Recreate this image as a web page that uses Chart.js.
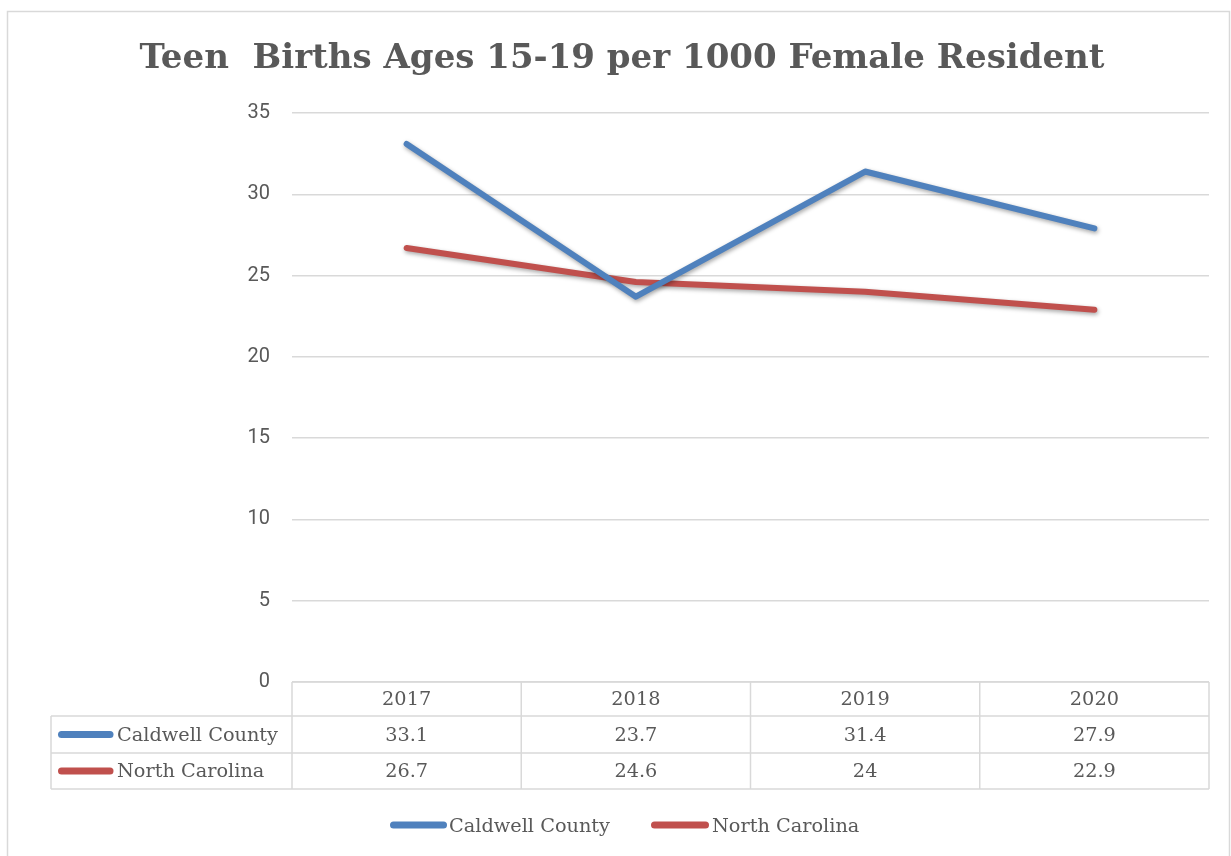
<!DOCTYPE html>
<html>
<head>
<meta charset="utf-8">
<script src="https://cdn.jsdelivr.net/npm/chart.js@4.4.1/dist/chart.umd.min.js"></script>
<style>
html,body{margin:0;padding:0;background:#fff;}
#wrap{position:relative;width:1231px;height:856px;}
</style>
</head>
<body>
<div id="wrap"><canvas id="c" width="1231" height="856"></canvas></div>
<script>
const categories = ['2017', '2018', '2019', '2020'];
const caldwell = [33.1, 23.7, 31.4, 27.9];
const northCarolina = [26.7, 24.6, 24, 22.9];
const caldwellLabels = ['33.1', '23.7', '31.4', '27.9'];
const ncLabels = ['26.7', '24.6', '24', '22.9'];
const seriesNames = ['Caldwell County', 'North Carolina'];
const titleText = 'Teen  Births Ages 15-19 per 1000 Female Resident';
const yTicks = [0, 5, 10, 15, 20, 25, 30, 35];

const BLUE = '#4F81BD', RED = '#C0504D', GRID = '#D9D9D9', TEXT = '#595959';
const SERIF = '"DejaVu Serif", serif';

const decor = {
  id: 'decor',
  beforeDraw(chart) {
    const ctx = chart.ctx;
    ctx.save();
    ctx.fillStyle = '#fff';
    ctx.fillRect(0, 0, chart.width, chart.height);
    ctx.strokeStyle = GRID;
    ctx.lineWidth = 1.5;
    ctx.strokeRect(7.5, 11.5, 1222, 850);
    // title
    ctx.fillStyle = TEXT;
    ctx.font = 'bold 34px ' + SERIF;
    ctx.textAlign = 'center';
    ctx.textBaseline = 'middle';
    ctx.fillText(titleText, 622, 59);
    ctx.restore();
  },
  beforeDatasetsDraw(chart) {
    const ctx = chart.ctx;
    ctx.save();
    ctx.shadowColor = 'rgba(0,0,0,0.35)';
    ctx.shadowBlur = 4;
    ctx.shadowOffsetX = 1;
    ctx.shadowOffsetY = 2;
  },
  afterDatasetsDraw(chart) {
    chart.ctx.restore();
    const ctx = chart.ctx;
    const x = chart.scales.x;
    const area = chart.chartArea;
    const half = (x.getPixelForValue(1) - x.getPixelForValue(0)) / 2;
    const top = area.bottom;
    const r1 = top + 34, r2 = top + 71, r3 = top + 107;
    const left = 51;
    ctx.save();
    ctx.strokeStyle = GRID;
    ctx.lineWidth = 1.5;
    ctx.beginPath();
    ctx.moveTo(area.left, top); ctx.lineTo(area.right, top);
    [r1, r2, r3].forEach(y => { ctx.moveTo(left, y); ctx.lineTo(area.right, y); });
    ctx.moveTo(left, r1); ctx.lineTo(left, r3);
    for (let i = 0; i < categories.length; i++) {
      const b = x.getPixelForValue(i) - half;
      ctx.moveTo(b, top); ctx.lineTo(b, r3);
    }
    ctx.moveTo(area.right, top); ctx.lineTo(area.right, r3);
    ctx.stroke();

    ctx.fillStyle = TEXT;
    ctx.font = '19.3px ' + SERIF;
    ctx.textAlign = 'center';
    ctx.textBaseline = 'middle';
    const rows = [categories, caldwellLabels, ncLabels];
    const ys = [(top + r1) / 2, (r1 + r2) / 2, (r2 + r3) / 2];
    rows.forEach((row, ri) => {
      row.forEach((t, i) => ctx.fillText(t, x.getPixelForValue(i), ys[ri] + 1));
    });
    // row labels with keys
    const colors = [BLUE, RED];
    ctx.lineCap = 'round';
    ctx.lineWidth = 7;
    [ys[1], ys[2]].forEach((y, k) => {
      ctx.strokeStyle = colors[k];
      ctx.beginPath(); ctx.moveTo(61.5, y); ctx.lineTo(110, y); ctx.stroke();
      ctx.textAlign = 'left';
      ctx.fillText(seriesNames[k], 117, y + 1);
    });
    // bottom legend
    const ly = 825;
    const items = [[393.5, 443.5, 449], [654.5, 705.5, 712]];
    items.forEach((it, k) => {
      ctx.strokeStyle = colors[k];
      ctx.beginPath(); ctx.moveTo(it[0], ly); ctx.lineTo(it[1], ly); ctx.stroke();
      ctx.textAlign = 'left';
      ctx.fillText(seriesNames[k], it[2], ly + 2);
    });
    ctx.restore();
  }
};

new Chart(document.getElementById('c'), {
  type: 'line',
  data: {
    labels: categories,
    datasets: [
      { label: seriesNames[0], data: caldwell, borderColor: BLUE, backgroundColor: BLUE,
        borderWidth: 6, pointRadius: 0, borderCapStyle: 'round', borderJoinStyle: 'round', tension: 0 },
      { label: seriesNames[1], data: northCarolina, borderColor: RED, backgroundColor: RED,
        borderWidth: 6, pointRadius: 0, borderCapStyle: 'round', borderJoinStyle: 'round', tension: 0 }
    ]
  },
  options: {
    responsive: false,
    animation: false,
    devicePixelRatio: 1,
    layout: { padding: { left: 0, right: 22, top: 113, bottom: 174 } },
    plugins: { legend: { display: false }, title: { display: false }, tooltip: { enabled: false } },
    scales: {
      x: {
        offset: true,
        grid: { display: false },
        border: { display: false },
        ticks: { display: false },
        afterFit(s) { s.height = 0; }
      },
      y: {
        min: 0, max: 35,
        afterBuildTicks(s) { s.ticks = yTicks.map(v => ({ value: v })); },
        afterFit(s) { s.width = 292; },
        grid: { color: GRID, lineWidth: 1.5, drawTicks: false },
        border: { display: false },
        ticks: { padding: 22, color: TEXT, font: { family: 'Roboto', size: 20 } }
      }
    }
  },
  plugins: [decor]
});
</script>
</body>
</html>
